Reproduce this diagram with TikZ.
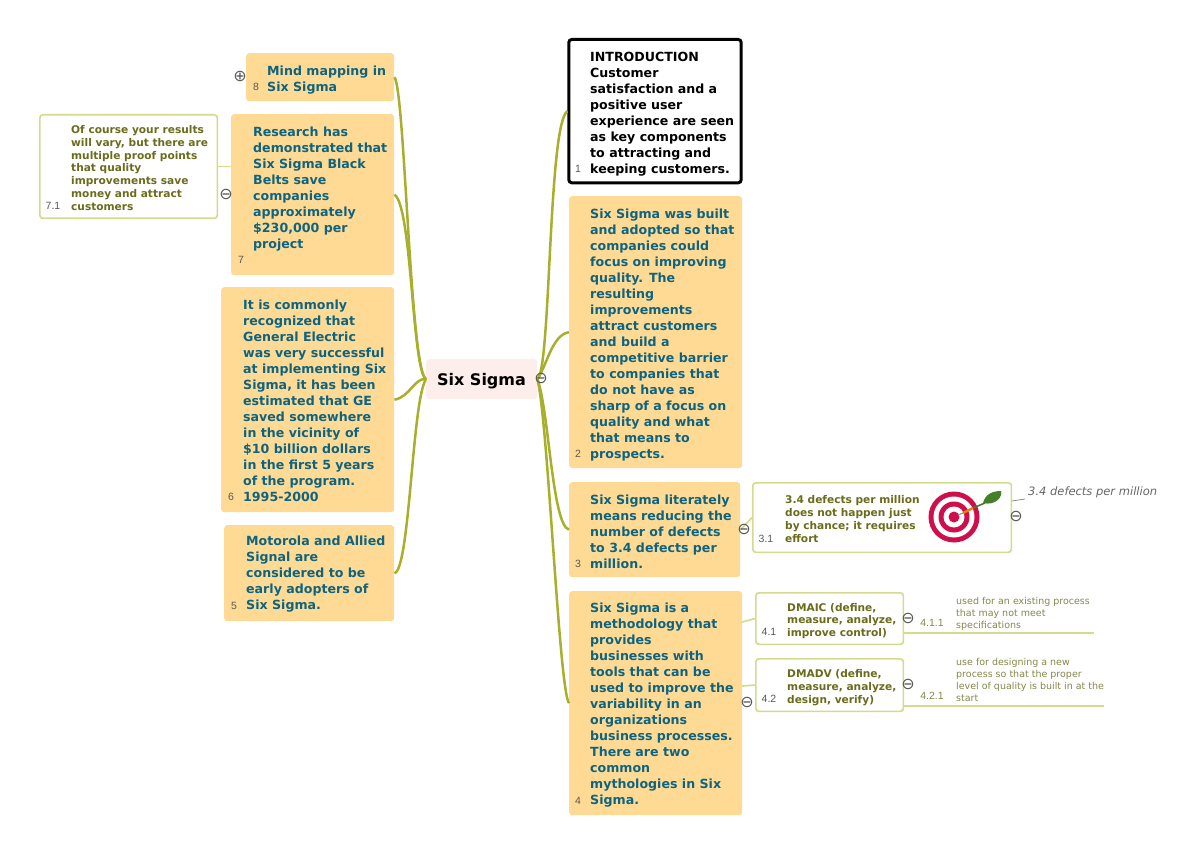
\documentclass[tikz,border=0pt]{standalone}
\usepackage{fontspec}
\setmainfont{DejaVu Sans}
\newfontfamily\numfont{Liberation Sans}
\definecolor{topicfill}{HTML}{FFDA94}
\definecolor{rootfill}{HTML}{FDEDEB}
\definecolor{branchcol}{HTML}{A8AF2C}
\definecolor{subline}{HTML}{D5DB8E}
\definecolor{topictext}{HTML}{0E6480}
\definecolor{subtext}{HTML}{6A6C1C}
\definecolor{notetext}{HTML}{85874A}
\definecolor{targetred}{HTML}{CE0F4C}
\definecolor{dartgreen}{HTML}{43802A}
\tikzset{
	box/.style={anchor=north west,rounded corners=3pt,inner sep=0pt},
	topic/.style={box,fill=topicfill},
	sub/.style={box,draw=subline,line width=1.7pt,fill=white},
	toptext/.style={anchor=west,align=left,inner sep=0pt,text=topictext,font=\fontsize{12.6}{16}\selectfont\bfseries},
	subbody/.style={anchor=west,align=left,inner sep=0pt,text=subtext,font=\fontsize{10.6}{12.9}\selectfont\bfseries},
	notebody/.style={anchor=west,align=left,inner sep=0pt,text=notetext,font=\fontsize{9.5}{11.7}\selectfont},
	num/.style={inner sep=0pt,text=black!65,font=\numfont\fontsize{10.5}{12}\selectfont},
	fold/.style={inner sep=0pt,text=black!65,font=\fontsize{16}{16}\selectfont},
	branch/.style={draw=branchcol,line width=2.5pt},
	twig/.style={draw=subline,line width=1.7pt},
}
\begin{document}
\begin{tikzpicture}[x=1pt,y=-1pt]
	\useasboundingbox (0,0) rectangle (1200,853);

	\node[box,fill=rootfill,minimum width=111pt,minimum height=40pt] (root) at (426,359) {};
	\node[anchor=center,inner sep=0pt,font=\fontsize{16}{18}\selectfont\bfseries] (roottext) at (481.5,381.5) {Six Sigma};

	\node[box,draw=black,line width=3pt,fill=white,minimum width=172.4pt,minimum height=143.3pt] (t1) at (567.3,38) {};
	\node[toptext,text=black] (t1text) at (590,114) {INTRODUCTION\\Customer\\satisfaction and a\\positive user\\experience are seen\\as key components\\to attracting and\\keeping customers.};
	\node[num] (t1num) at (578,169) {1};

	\node[topic,minimum width=173pt,minimum height=272pt] (t2) at (569,196) {};
	\node[toptext] (t2text) at (590,335) {Six Sigma was built\\and adopted so that\\companies could\\focus on improving\\quality. The\\resulting\\improvements\\attract customers\\and build a\\competitive barrier\\to companies that\\do not have as\\sharp of a focus on\\quality and what\\that means to\\prospects.};
	\node[num] (t2num) at (578,454) {2};

	\node[topic,minimum width=171pt,minimum height=95pt] (t3) at (569,482) {};
	\node[toptext] (t3text) at (590,532) {Six Sigma literately\\means reducing the\\number of defects\\to 3.4 defects per\\million.};
	\node[num] (t3num) at (578,564) {3};

	\node[topic,minimum width=173pt,minimum height=224pt] (t4) at (569,591) {};
	\node[toptext] (t4text) at (590,705) {Six Sigma is a\\methodology that\\provides\\businesses with\\tools that can be\\used to improve the\\variability in an\\organizations\\business processes.\\There are two\\common\\mythologies in Six\\Sigma.};
	\node[num] (t4num) at (578,801) {4};

	\node[topic,minimum width=170pt,minimum height=96pt] (t5) at (224,525) {};
	\node[toptext] (t5text) at (246,574) {Motorola and Allied\\Signal are\\considered to be\\early adopters of\\Six Sigma.};
	\node[num] (t5num) at (234,606) {5};

	\node[topic,minimum width=173pt,minimum height=225pt] (t6) at (221,287) {};
	\node[toptext] (t6text) at (243,401) {It is commonly\\recognized that\\General Electric\\was very successful\\at implementing Six\\Sigma, it has been\\estimated that GE\\saved somewhere\\in the vicinity of\\\$10 billion dollars\\in the first 5 years\\of the program.\\1995-2000};
	\node[num] (t6num) at (231,497) {6};

	\node[topic,minimum width=163pt,minimum height=161pt] (t7) at (231,114) {};
	\node[toptext] (t7text) at (253,189) {Research has\\demonstrated that\\Six Sigma Black\\Belts save\\companies\\approximately\\\$230,000 per\\project};
	\node[num] (t7num) at (241,260) {7};

	\node[topic,minimum width=148pt,minimum height=48pt] (t8) at (246,53) {};
	\node[toptext] (t8text) at (267,80) {Mind mapping in\\Six Sigma};
	\node[num] (t8num) at (256,87) {8};

	\node[sub,minimum width=177.5pt,minimum height=103.5pt] (t71) at (39,114) {};
	\node[subbody] (t71text) at (71,168) {Of course your results\\will vary, but there are\\multiple proof points\\that quality\\improvements save\\money and attract\\customers};
	\node[num] (t71num) at (53,206) {7.1};

	\node[sub,minimum width=258.5pt,minimum height=69.5pt] (t31) at (752,482) {};
	\node[subbody] (t31text) at (785,519) {3.4 defects per million\\does not happen just\\by chance; it requires\\effort};
	\node[num] (t31num) at (766,539) {3.1};

	\node[sub,minimum width=147.5pt,minimum height=51.5pt] (t41) at (755,592) {};
	\node[subbody] (t41text) at (787,621) {DMAIC (define,\\measure, analyze,\\improve control)};
	\node[num] (t41num) at (769,632) {4.1};

	\node[sub,minimum width=147.5pt,minimum height=52.5pt] (t42) at (755,658) {};
	\node[subbody] (t42text) at (787,688) {DMADV (define,\\measure, analyze,\\design, verify)};
	\node[num] (t42num) at (769,699) {4.2};

	\node[notebody] (n411) at (956,614) {used for an existing process\\that may not meet\\specifications};
	\node[num,text=notetext] (n411num) at (932,623) {4.1.1};
	\coordinate (n411end) at (1094,633);

	\node[notebody] (n421) at (956,680) {use for designing a new\\process so that the proper\\level of quality is built in at the\\start};
	\node[num,text=notetext] (n421num) at (932,696) {4.2.1};
	\coordinate (n421end) at (1104,706);

	\node[inner sep=0pt,anchor=west,text=black!60,font=\fontsize{11.5}{14}\selectfont\itshape] (callout) at (1028,492) {3.4 defects per million};

	\draw[branch] (root.east) .. controls (551,370) and (548,125) .. (t1.west);
	\draw[branch] (root.east) .. controls (547,365) and (552,335) .. (t2.west);
	\draw[branch] (root.east) .. controls (549,410) and (552,525) .. (t3.west);
	\draw[branch] (root.east) .. controls (548,420) and (559,690) .. (t4.west);
	\draw[branch] (root.west) .. controls (410,370) and (405,90) .. (t8.east);
	\draw[branch] (root.west) .. controls (412,370) and (412,205) .. (t7.east);
	\draw[branch] (root.west) .. controls (415,377) and (410,397) .. (t6.east);
	\draw[branch] (root.west) .. controls (412,400) and (410,570) .. (t5.east);

	\draw[twig] (t7.west|-t71.east) -- (t71.east);
	\draw[twig] (t3.east) -- (t31.west);
	\draw[twig] (742,622) -- (t41.west);
	\draw[twig] (742,686) -- (t42.west);
	\draw[twig] (904,633) -- (n411end);
	\draw[twig] (904,706) -- (n421end);
	\draw[gray,line width=0.7pt] (1012,501) -- (1025,499);

	\node[fold] (f0) at (541,378) {⊖};
	\node[fold] (f8) at (240,76) {⊕};
	\node[fold] (f7) at (226,194) {⊖};
	\node[fold] (f3) at (744,529) {⊖};
	\node[fold] (f4) at (747,702) {⊖};
	\node[fold] (f31) at (1016,516) {⊖};
	\node[fold] (f41) at (908,618) {⊖};
	\node[fold] (f42) at (908,684) {⊖};

	\coordinate (bull) at (954,517);
	\foreach \rad/\col in {25.5/targetred,20.5/white,15.5/targetred,10.5/white,5.5/targetred}
		\fill[\col] (bull) circle (\rad);
	\draw[black!40,line width=1.2pt] (958,515) -- (963,513);
	\draw[orange!60!brown,line width=2.4pt] (963,513) -- (973,508);
	\draw[dartgreen,line width=1.6pt] (973,508) -- (985,503);
	\fill[dartgreen] (983,503) .. controls (985,494) and (993,491) .. (1001,491)
		.. controls (1003,497) and (995,506) .. (983,503);
\end{tikzpicture}
\end{document}
